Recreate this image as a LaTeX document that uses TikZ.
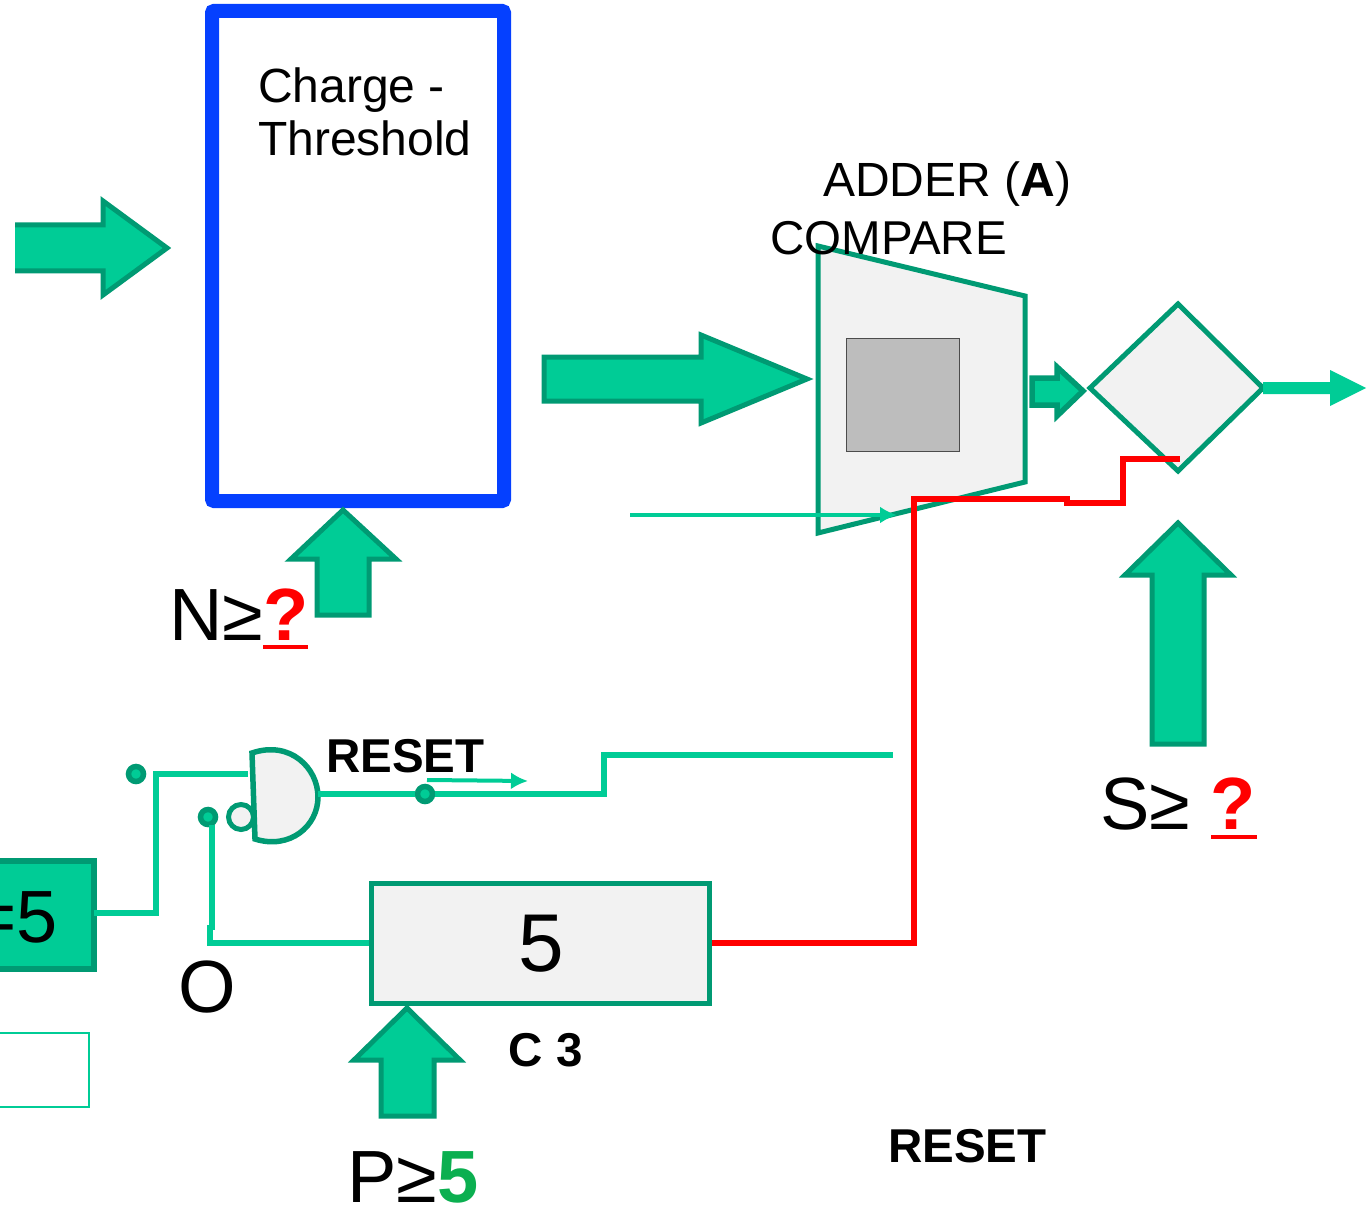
\documentclass[tikz,border=0pt]{standalone}
\usetikzlibrary{arrows.meta}
\usepackage{fontspec}
\setmainfont{Liberation Sans}
\definecolor{gfill}{HTML}{00CC96}
\definecolor{gline}{HTML}{009A73}
\definecolor{lgray}{HTML}{F2F2F2}
\definecolor{mgray}{HTML}{BDBDBD}
\definecolor{bblue}{HTML}{0540FF}
\definecolor{pgreen}{HTML}{0BAF50}
\newcommand{\fs}[1]{\fontsize{#1}{#1}\selectfont}
\tikzset{
  blockarrow/.style={fill=gfill,draw=gline,line width=5pt,miter limit=10},
  greybox/.style={draw=gline,fill=lgray,line width=5pt,inner sep=0pt,anchor=north west},
  wire/.style={draw=gfill,line width=5.5pt},
  thinwire/.style={draw=gfill,line width=4pt},
  redwire/.style={draw=red,line width=5.5pt},
  dot/.style={circle,fill=gfill,draw=gline,line width=5.5pt,minimum size=15pt,inner sep=0pt},
  lab/.style={inner sep=0pt,anchor=base west,text=black},
}
\begin{document}
\begin{tikzpicture}[x=1pt,y=-1pt]
\useasboundingbox (0,0) rectangle (1369,1209);
\clip (0,0) rectangle (1369,1209);
% charge box
\node[draw=bblue,line width=14pt,rounded corners=2pt,minimum width=292pt,minimum height=490pt,inner sep=0pt,anchor=north west] (charge) at (205,4) {};
\node[lab,align=left,anchor=north west,font=\fs{48}] (chargetxt) at (258,68) {Charge -\\[5pt]Threshold};
% block arrows
\fill[gfill] (15,225) -- (103,225) -- (103,201) -- (167,248) -- (103,295) -- (103,271) -- (15,271) -- cycle;
\draw[blockarrow,fill=none] (15,225) -- (103,225) -- (103,201) -- (167,248) -- (103,295) -- (103,271) -- (15,271);
\draw[blockarrow] (544,357) -- (701,357) -- (701,335) -- (807,379) -- (701,423) -- (701,401) -- (544,401) -- cycle;
\draw[blockarrow] (317,615) -- (369,615) -- (369,559) -- (396,559) -- (343,510) -- (291,559) -- (317,559) -- cycle;
\draw[blockarrow] (1152,744) -- (1204,744) -- (1204,575) -- (1231,575) -- (1178,523) -- (1125,575) -- (1152,575) -- cycle;
\draw[blockarrow] (381,1116) -- (434,1116) -- (434,1060) -- (460,1060) -- (407,1008) -- (354,1060) -- (381,1060) -- cycle;
\draw[blockarrow,line width=5.5pt] (1032,378) -- (1057,378) -- (1057,367) -- (1083,391) -- (1057,416) -- (1057,405) -- (1032,405) -- cycle;
% adder
\draw[draw=gline,fill=lgray,line width=5pt,line join=miter] (818,246) -- (1025,296) -- (1025,482) -- (818,533) -- cycle;
\node[draw=black!70,fill=mgray,line width=1pt,minimum width=113pt,minimum height=113pt,inner sep=0pt,anchor=north west] (inner) at (846,338) {};
% comparator diamond
\draw[draw=gline,fill=lgray,line width=5pt] (1178,304) coordinate (dtop) -- (1263,388) coordinate (dright) -- (1178,471) coordinate (dbot) -- (1090,388) coordinate (dleft) -- cycle;
% output arrow
\coordinate (outtip) at (1366,388);
\fill[gfill] (dright) ++(0,-6) -- (1330,382) -- (1330,370) -- (outtip) -- (1330,406) -- (1330,394) -- (1263,394) -- cycle;
% labels
\node[lab,font=\fs{48}] (adder) at (823,197) {ADDER (\textbf{A})};
\node[lab,font=\fs{47.5}] (compare) at (770,255) {COMPARE};
\node[lab,font=\fs{74}] (nlab) at (169,640) {N≥\textcolor{red}{\textbf{?}}};
\draw[red,line width=4pt] (263,647) -- (308,647);
\node[lab,font=\fs{74}] (slab) at (1100,829) {S≥ \textcolor{red}{\textbf{?}}};
\draw[red,line width=4pt] (1211,837) -- (1257,837);
\node[lab,font=\fs{74}] (plab) at (347,1202) {P≥\textcolor{pgreen}{\textbf{5}}};
\node[lab,font=\fs{47.5}\bfseries] (reset1) at (326,772) {RESET};
\node[lab,font=\fs{47.5}\bfseries] (reset2) at (888,1162) {RESET};
\node[lab,font=\fs{47.5}\bfseries] (c3) at (508,1066) {C\hspace{1pt} 3};
\node[lab,font=\fs{74}] (olab) at (178,1012) {O};
% counter box
\node[greybox,minimum width=338pt,minimum height=120pt,font=\fs{82}] (count) at (369,881) {\raisebox{-4pt}{\hspace{2pt}5}};
% =5 box
\node[draw=gline,fill=gfill,line width=6pt,minimum width=118pt,minimum height=108pt,inner sep=0pt,anchor=north east] (eq) at (97,858) {};
\node[lab,font=\fs{74}] (eqtxt) at (-27,942) {=5};
% thin box
\draw[draw=gfill,line width=1.5pt] (-5,1033) -- (89,1033) -- (89,1107) -- (-5,1107);
% gate
\draw[draw=gline,fill=lgray,line width=5.5pt] (252,753) .. controls (290,740) and (318,768) .. (318,797) .. controls (318,826) and (290,850) .. (255,839) -- cycle;
\node[circle,draw=gline,fill=lgray,line width=5pt,minimum size=25pt,inner sep=0pt] (bubble) at (241,817) {};
\coordinate (gatein) at (248,774);
\coordinate (gateout) at (318,794);
% dots
\node[dot] (d1) at (136,774) {};
\node[dot] (d2) at (208,817) {};
\node[dot] (d3) at (425,794) {};
% wires
\draw[wire] (94,913) -| (156,774) -- (gatein);
\draw[wire] (d2) ++(4,8) -- (212,930);
\draw[wire] (210,925) |- (count.west |- 0,943);
\draw[wire] (gateout) -- (d3) -- (604,794) |- (893,755);
\draw[thinwire,-{Latex[length=17pt,width=17pt]}] (427,780) -- (528,781);
\draw[thinwire,-{Latex[length=17pt,width=17pt]}] (630,515) -- (897,515);
\draw[redwire] (count.east |- 0,943) -| (914,499) -- (1067,499) -- (1067,503) -| (1123,459) -- (1180,459);
\end{tikzpicture}
\end{document}
